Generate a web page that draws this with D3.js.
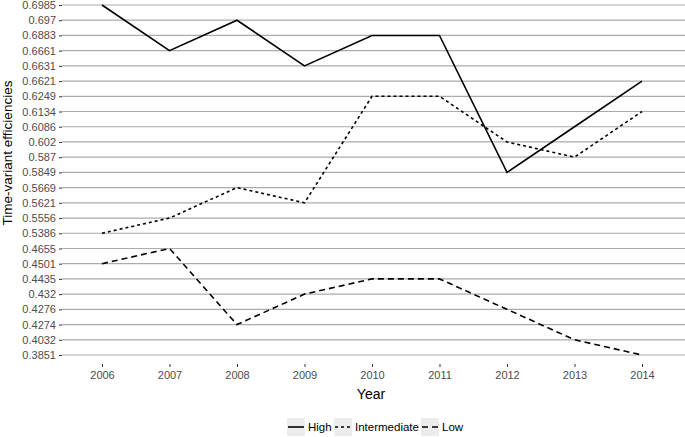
<!DOCTYPE html>
<html>
<head>
<meta charset="utf-8">
<script src="https://cdn.jsdelivr.net/npm/d3@7"></script>
<style>
  body { margin: 0; background: #fff; }
  text { font-family: "Liberation Sans", Arial, sans-serif; }
</style>
</head>
<body>
<div id="chart-area"></div>
<script>
var width = 685
var height = 437

// data
var years = [2006, 2007, 2008, 2009, 2010, 2011, 2012, 2013, 2014]
var high = [0.6985, 0.6661, 0.697, 0.6631, 0.6883, 0.6883, 0.5849, 0.6086, 0.6621]
var intermediate = [0.5386, 0.5556, 0.5669, 0.5621, 0.6249, 0.6249, 0.602, 0.587, 0.6134]
var low = [0.4501, 0.4655, 0.4274, 0.432, 0.4435, 0.4435, 0.4276, 0.4032, 0.3851]
var yLabels = ["0.6985", "0.697", "0.6883", "0.6661", "0.6631", "0.6621", "0.6249", "0.6134",
    "0.6086", "0.602", "0.587", "0.5849", "0.5669", "0.5621", "0.5556", "0.5386", "0.4655",
    "0.4501", "0.4435", "0.432", "0.4276", "0.4274", "0.4032", "0.3851"]
var seriesNames = ["High", "Intermediate", "Low"]
var seriesDash = ["none", "3,3", "6,4"]

var svg = d3.select("#chart-area").append("svg")
    .attr("width", width)
    .attr("height", height)

var panelLeft = 62, panelRight = 685

var xScale = d3.scalePoint()
    .domain(years)
    .range([102, 642])

// y axis is discrete: each value is its own label
var yScale = d3.scalePoint()
    .domain(yLabels)
    .range([5, 355])

// horizontal gridlines
svg.append("g").selectAll("line").data(yLabels).enter()
    .append("line")
    .attr("x1", panelLeft)
    .attr("x2", panelRight)
    .attr("y1", function(d) { return yScale(d) })
    .attr("y2", function(d) { return yScale(d) })
    .attr("stroke", "#ababab")
    .attr("stroke-width", 1.2)

// Y Axis
var yAxisGroup = svg.append("g")
    .attr("transform", "translate(" + panelLeft + ",0)")
    .call(d3.axisLeft(yScale).tickSize(3).tickPadding(3))
yAxisGroup.select(".domain").remove()
yAxisGroup.selectAll("line").attr("stroke", "#333333")
yAxisGroup.selectAll("text")
    .style("font-size", "11px")
    .style("fill", "#4d4d4d")

// X Axis
var xAxisGroup = svg.append("g")
    .attr("transform", "translate(0,364)")
    .call(d3.axisBottom(xScale).tickSize(3).tickPadding(4))
xAxisGroup.select(".domain").remove()
xAxisGroup.selectAll("line").attr("stroke", "#333333")
xAxisGroup.selectAll("text")
    .style("font-size", "11px")
    .style("fill", "#4d4d4d")

// axis titles
svg.append("text")
    .attr("x", 371)
    .attr("y", 399)
    .style("text-anchor", "middle")
    .style("font-size", "14px")
    .style("fill", "#000")
    .text("Year")

svg.append("text")
    .attr("transform", "translate(12," + 153 + ") rotate(-90)")
    .style("text-anchor", "middle")
    .style("font-size", "13.5px")
    .style("fill", "#000")
    .text("Time-variant efficiencies")

// lines
var allSeries = [high, intermediate, low]
var line = d3.line()
    .x(function(d, i) { return xScale(years[i]) })
    .y(function(d) { return yScale(String(d)) })

for (var s = 0; s < allSeries.length; s++) {
    svg.append("path")
        .datum(allSeries[s])
        .attr("d", line)
        .attr("fill", "none")
        .attr("stroke", "#000")
        .attr("stroke-width", 1.6)
        .attr("stroke-dasharray", seriesDash[s])
}

// legend
var legendX = [287, 334, 421]
var legend = svg.append("g").attr("transform", "translate(0,428)")
for (var i = 0; i < seriesNames.length; i++) {
    legend.append("rect")
        .attr("x", legendX[i])
        .attr("y", -10)
        .attr("width", 18)
        .attr("height", 18)
        .attr("fill", "#ececec")
    legend.append("line")
        .attr("x1", legendX[i] + 1)
        .attr("x2", legendX[i] + 17)
        .attr("y1", -1)
        .attr("y2", -1)
        .attr("stroke", "#000")
        .attr("stroke-width", 1.6)
        .attr("stroke-dasharray", seriesDash[i])
    legend.append("text")
        .attr("x", legendX[i] + 21)
        .attr("y", 3)
        .style("font-size", "11.5px")
        .style("fill", "#000")
        .text(seriesNames[i])
}
</script>
</body>
</html>
